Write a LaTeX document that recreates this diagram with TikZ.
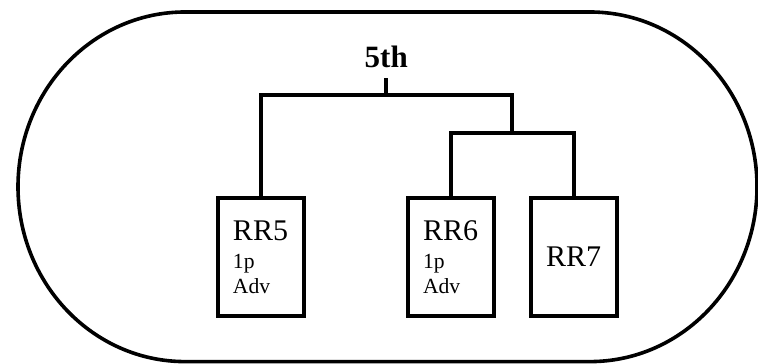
\documentclass[tikz,border=0pt]{standalone}
\usepackage{fontspec}
\setmainfont{Liberation Serif}
\usetikzlibrary{positioning, calc}

\begin{document}
\begin{tikzpicture}[
  x=1pt, y=1pt,
  rrbox/.style={draw, line width=2pt, minimum width=43pt, minimum height=59.2pt, inner sep=0pt, outer sep=0pt, align=left, font=\fontsize{10.8}{12.5}\selectfont},
  bigtext/.style={font=\fontsize{15}{17}\selectfont},
  tree/.style={line width=2pt},
  title/.style={font=\fontsize{15.5}{18}\selectfont\bfseries, inner sep=0pt, outer sep=4.7pt}
]
  \useasboundingbox (0,0) rectangle (379,181.5);
  \draw[line width=1.8pt] (92.5,175.5) -- (295,175.5)
    arc[start angle=90, end angle=-90, x radius=83.5, y radius=87.4] -- (92.5,0.7)
    arc[start angle=270, end angle=90, x radius=83.5, y radius=87.4] -- cycle;
  \node[rrbox] (rr5) at (130.25,53.05) {{\fontsize{15}{17}\selectfont RR5}\\[1.5pt]1p\\Adv};
  \node[rrbox, right=52pt of rr5] (rr6) {{\fontsize{15}{17}\selectfont RR6}\\[1.5pt]1p\\Adv};
  \node[rrbox, bigtext, right=18.5pt of rr6] (rr7) {RR7};
  \coordinate (j67) at ($(rr6.north)!0.5!(rr7.north)+(0,32.5)$);
  \coordinate (jtop) at ($(rr5.north |- j67)!0.5!(j67)+(0,18.7)$);
  \node[title, above=8.8pt of jtop] (fifth) {5th};
  \draw[tree] (rr6.north) |- (j67) -| (rr7.north);
  \draw[tree] (rr5.north) |- (jtop) -| (j67);
  \draw[tree] (jtop) -- (fifth.south);
\end{tikzpicture}
\end{document}
